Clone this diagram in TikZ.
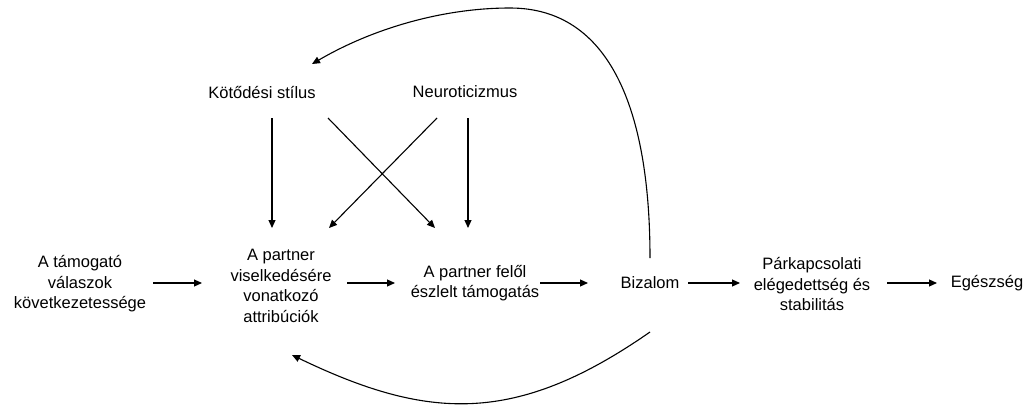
\documentclass[tikz,border=0pt]{standalone}
\usepackage{fontspec}
\setmainfont{Liberation Sans}
\usetikzlibrary{arrows.meta,calc}
\begin{document}
\begin{tikzpicture}[x=1pt,y=-1pt,
  lbl/.style={align=center,inner sep=0pt,font=\fontsize{16.5}{20.5}\selectfont},
  arr/.style={line width=1.1pt,-{Triangle[length=8pt,width=7pt]}}]
\useasboundingbox (0,0) rectangle (1026,405);
\node[lbl] (src) at (80,284) {A támogató\\válaszok\\következetessége};
\node[lbl] (attr) at (281,286) {A partner\\viselkedésére\\vonatkozó\\attribúciók};
\node[lbl] (perc) at (475,283) {A partner felől\\észlelt támogatás};
\node[lbl] (biz) at (650,283) {Bizalom};
\node[lbl] (sat) at (812,284) {Párkapcsolati\\elégedettség és\\stabilitás};
\node[lbl] (health) at (987,283) {Egészség};
\node[lbl] (att) at (262,93) {Kötődési stílus};
\node[lbl] (neu) at (465,92) {Neuroticizmus};
% horizontal chain
\draw[arr] ($(src.center|-biz.center)+(73,0)$) -- ($(attr.center|-biz.center)+(-79,0)$);
\draw[arr] ($(attr.center|-biz.center)+(66,0)$) -- ($(perc.center|-biz.center)+(-80,0)$);
\draw[arr] ($(perc.center|-biz.center)+(65,0)$) -- ($(biz.center)+(-62,0)$);
\draw[arr] ($(biz.center)+(38,0)$) -- ($(sat.center|-biz.center)+(-72,0)$);
\draw[arr] ($(sat.center|-biz.center)+(75,0)$) -- ($(health.center)+(-50,0)$);
% moderators
\draw[arr] ($(att.center)+(10,25)$) -- ($(attr.center)+(-9,-58)$);
\draw[arr] ($(att.center)+(66,25)$) -- ($(perc.center)+(-40,-55)$);
\draw[arr] ($(neu.center)+(-28,26)$) -- ($(attr.center)+(48,-58)$);
\draw[arr] ($(neu.center)+(3,26)$) -- ($(perc.center)+(-7,-55)$);
% feedback loops
\draw[arr] ($(biz.center)+(0,-25)$) .. controls (650,110) and (610,8) .. (510,8)
  .. controls (440,8) and (370,30) .. ($(att.center)+(50,-29)$);
\draw[arr] ($(biz.center)+(0,49)$) .. controls (515,426) and (427,420) .. ($(attr.center)+(11,69)$);
\end{tikzpicture}
\end{document}
